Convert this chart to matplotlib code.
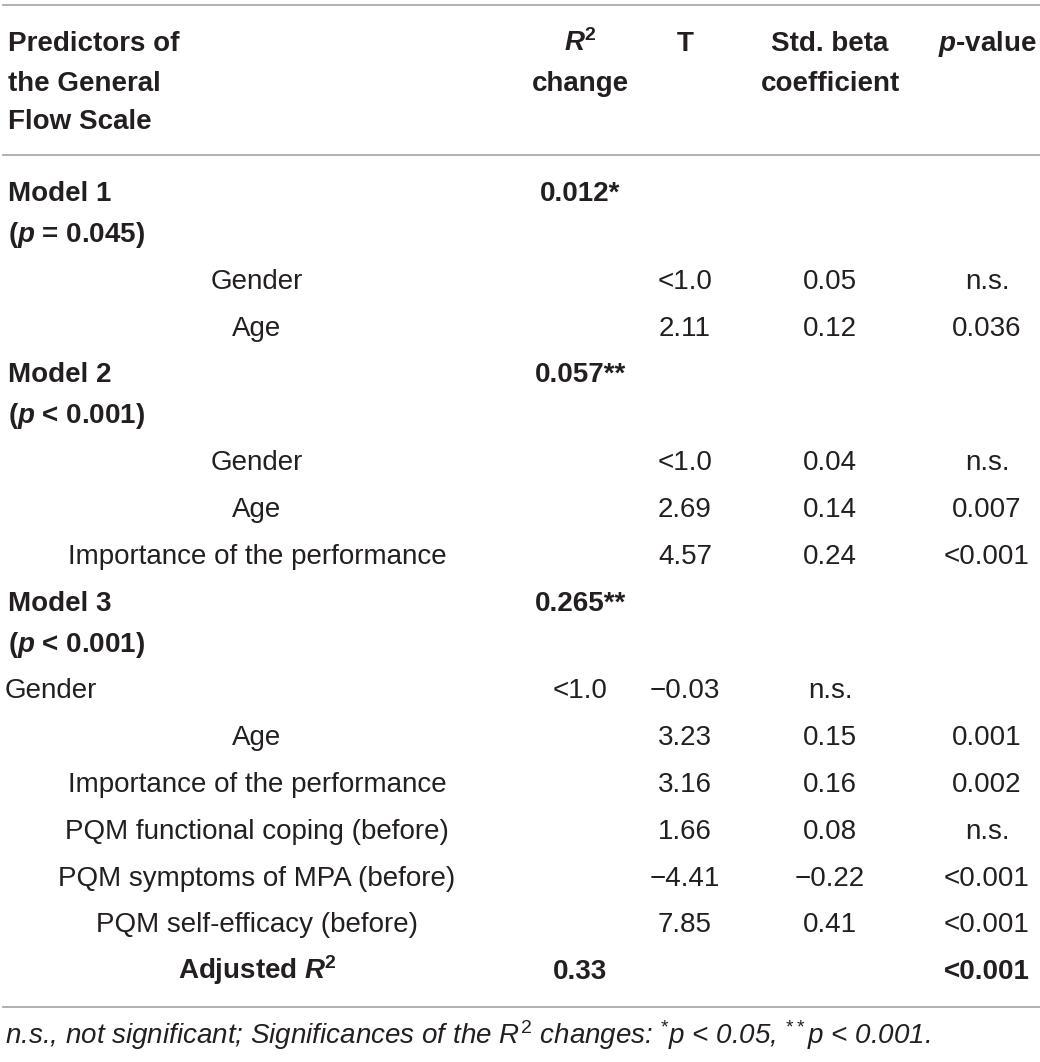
import matplotlib.pyplot as plt

plt.rcParams['font.family'] = ['Liberation Sans', 'DejaVu Sans']
plt.rcParams['mathtext.fontset'] = 'custom'
plt.rcParams['mathtext.rm'] = 'Liberation Sans'
plt.rcParams['mathtext.it'] = 'Liberation Sans:italic'
plt.rcParams['mathtext.bf'] = 'Liberation Sans:bold'
plt.rcParams['mathtext.bfit'] = 'Liberation Sans:italic:bold'

# header (one entry per column, lines split by \n)
headers = ["Predictors of\nthe General\nFlow Scale",
           "$\\mathbfit{R}^{\\mathbf{2}}$\nchange",
           "T",
           "Std. beta\ncoefficient",
           "$\\mathbfit{p}$-value"]

# table body
labels = ["Model 1", "Gender", "Age",
          "Model 2", "Gender", "Age", "Importance of the performance",
          "Model 3", "Gender", "Age", "Importance of the performance",
          "PQM functional coping (before)", "PQM symptoms of MPA (before)",
          "PQM self-efficacy (before)", "Adjusted $\\mathbfit{R}^{\\mathbf{2}}$"]
model_p = {0: "($\\mathbfit{p}$ = 0.045)", 3: "($\\mathbfit{p}$ < 0.001)",
           7: "($\\mathbfit{p}$ < 0.001)"}
r2_change = ["0.012*", "", "", "0.057**", "", "", "", "0.265**",
             "<1.0", "", "", "", "", "", "0.33"]
t_vals = ["", "<1.0", "2.11", "", "<1.0", "2.69", "4.57", "",
          "\u22120.03", "3.23", "3.16", "1.66", "\u22124.41", "7.85", ""]
beta_vals = ["", "0.05", "0.12", "", "0.04", "0.14", "0.24", "",
             "n.s.", "0.15", "0.16", "0.08", "\u22120.22", "0.41", ""]
p_vals = ["", "n.s.", "0.036", "", "n.s.", "0.007", "<0.001", "",
          "", "0.001", "0.002", "n.s.", "<0.001", "<0.001", "<0.001"]
bold_rows = [0, 3, 7, 14]
left_rows = [0, 3, 7, 8]  # Model rows + the shifted Gender row
footnote = ("n.s., not significant; Significances of the $\\mathit{R}^{\\mathit{2}}$ changes: "
            "$^{*}\\mathit{p}$ < 0.05, $^{**}\\mathit{p}$ < 0.001.")

txt = '#231f20'
rule = '#a3a3a3'
fs = 20
col_x = [8, 580, 685, 830, 987]
sub_x = 257

fig = plt.figure(figsize=(10.4, 10.62), dpi=100)
ax = fig.add_axes([0, 0, 1, 1])
ax.set_xlim(0, 1040)
ax.set_ylim(1062, 0)
ax.axis('off')

ax.plot([3, 1040], [5, 5], color=rule, lw=1.2)
ax.plot([3, 1040], [155, 155], color=rule, lw=1.2)
ax.plot([3, 1040], [1007, 1007], color=rule, lw=1.2)

# header
head_y = [51, 91, 129]
for j, h in enumerate(headers):
    for k, line in enumerate(h.split("\n")):
        ax.text(col_x[j], head_y[k], line, ha='left' if j == 0 else 'center',
                va='baseline', fontsize=fs, fontweight='bold', color=txt)

# body
y = 201
for i, lab in enumerate(labels):
    w = 'bold' if i in bold_rows else 'normal'
    if i in left_rows:
        ax.text(col_x[0] if i != 8 else 5, y, lab, ha='left', va='baseline',
                fontsize=fs, fontweight=w, color=txt)
    else:
        ax.text(sub_x, y, lab, ha='center', va='baseline',
                fontsize=fs, fontweight=w, color=txt)
    for j, vals in zip([1, 2, 3, 4], [r2_change, t_vals, beta_vals, p_vals]):
        if vals[i]:
            ax.text(col_x[j], y, vals[i], ha='center', va='baseline',
                    fontsize=fs, fontweight=w, color=txt)
    if i in model_p:
        y += 41
        ax.text(col_x[0], y, model_p[i], ha='left', va='baseline',
                fontsize=fs, fontweight='bold', color=txt)
    y += 46.8

ax.text(5, 1044, footnote, ha='left', va='baseline', fontsize=fs,
        style='italic', color=txt)

fig.savefig('out.png', dpi=100)
